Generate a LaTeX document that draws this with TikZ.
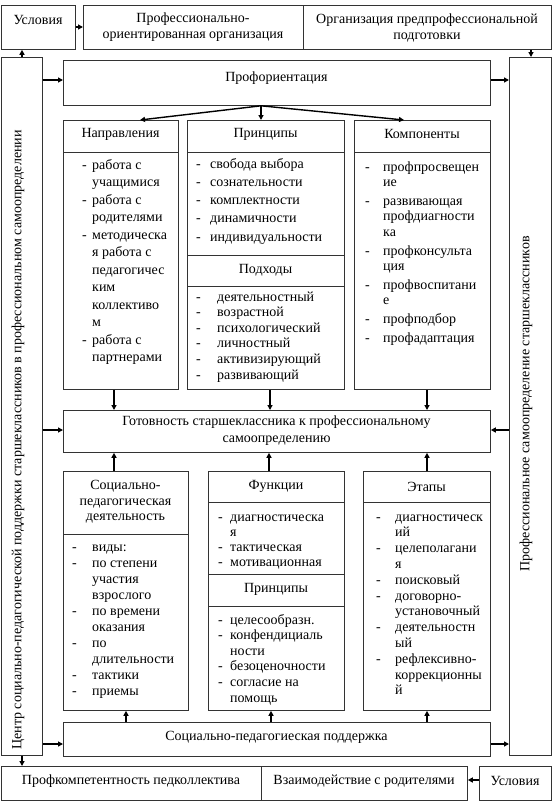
\documentclass[tikz,border=0pt]{standalone}
\usepackage{fontspec}
\setmainfont{Liberation Serif}
\usetikzlibrary{arrows.meta}
\newlength\dw
\newcommand\di[1]{\makebox[\dw][l]{-}#1}
\newcommand\dc[1]{\hspace*{\dw}#1}
\newcommand\bx[5]{\node[box,anchor=north west,minimum width={#4-#2},minimum height={#5-#3}] (#1) at (#2,#3) {};}
\newcommand\lst[6]{\node[anchor=base west,inner sep=0] (#1) at (#2,#3) {\parbox[t]{140pt}{\fontsize{14}{#5}\selectfont\setlength\dw{#4}\raggedright #6}};}
\tikzset{
  box/.style={draw=black!80,line width=0.8pt,inner sep=0},
  arr/.style={-{Triangle[length=5pt,width=5pt]},line width=1.4pt},
  txt/.style={inner sep=0,font=\fontsize{14}{16}\selectfont,align=center},
  sep/.style={draw=black!80,line width=0.8pt}
}
\begin{document}
\begin{tikzpicture}[x=1pt,y=-1pt]
\useasboundingbox (0,0) rectangle (556,803);
% boxes
\bx{U1}{1}{5}{75}{49}
\bx{PO}{83}{5}{303}{49}
\bx{OP}{303}{5}{551}{49}
\bx{L}{1}{57}{42}{755}
\bx{R}{509}{57}{551}{755}
\bx{PROF}{63}{60}{490}{105}
\bx{N}{63}{120}{178}{389}
\bx{P}{187}{120}{344}{389}
\bx{K}{354}{120}{490}{389}
\bx{GOT}{63}{410}{490}{452}
\bx{S}{63}{471}{188}{710}
\bx{F}{208}{471}{344}{710}
\bx{E}{363}{471}{490}{710}
\bx{SUP}{63}{722}{490}{756}
\bx{PK}{1}{766}{261}{800}
\bx{VZ}{261}{766}{467}{800}
\bx{U2}{479}{766}{551}{800}
% separators
\draw[sep] (N.west |- 0,152) -- (N.east |- 0,152);
\draw[sep] (P.west |- 0,152) -- (P.east |- 0,152);
\draw[sep] (K.west |- 0,152) -- (K.east |- 0,152);
\draw[sep] (P.west |- 0,255) -- (P.east |- 0,255);
\draw[sep] (P.west |- 0,286) -- (P.east |- 0,286);
\draw[sep] (S.west |- 0,534) -- (S.east |- 0,534);
\draw[sep] (F.west |- 0,502) -- (F.east |- 0,502);
\draw[sep] (F.west |- 0,574) -- (F.east |- 0,574);
\draw[sep] (F.west |- 0,606) -- (F.east |- 0,606);
\draw[sep] (E.west |- 0,502) -- (E.east |- 0,502);
% texts
\node[txt] (tU1) at (38,20) {Условия};
\node[txt,font=\fontsize{14}{16}\selectfont] (tPO) at (193,27.5) {Профессионально-\\ориентированная организация};
\node[txt] (tOP) at (427,27.5) {Организация предпрофессиональной\\подготовки};
\node[txt] (tL) at (18,440) [rotate=90] {Центр социально-педагогической поддержки старшеклассников в профессиональном самоопределении};
\node[txt] (tR) at (526,404) [rotate=90] {Профессиональное самоопределение старшеклассников};
\node[txt] (tPROF) at (276.5,78) {Профориентация};
\node[txt] (hN) at (120.5,134) {Направления};
\node[txt] (hP) at (265.5,134) {Принципы};
\node[txt] (hK) at (422,134) {Компоненты};
\node[txt] (hPd) at (265.5,270) {Подходы};
\node[txt,font=\fontsize{14}{17}\selectfont] (tGOT) at (276.5,430.5) {Готовность старшеклассника к профессиональному\\самоопределению};
\node[txt,font=\fontsize{14}{15.5}\selectfont] (hS) at (125.5,502) {Социально-\\педагогическая\\деятельность};
\node[txt] (hF) at (276,486) {Функции};
\node[txt] (hF2) at (276,589) {Принципы};
\node[txt] (hE) at (426.5,487) {Этапы};
\node[txt] (tSUP) at (276.5,737) {Социально-педагогиеская поддержка};
\node[txt] (tPK) at (131,781) {Профкомпетентность педколлектива};
\node[txt] (tVZ) at (364,781) {Взаимодействие с родителями};
\node[txt] (tU2) at (515,781) {Условия};
% lists
\lst{lN}{82}{169}{10pt}{17.5}{\di{работа с}\\\dc{учащимися}\\\di{работа с}\\\dc{родителями}\\\di{методическа}\\\dc{я работа с}\\\dc{педагогичес}\\\dc{ким}\\\dc{коллективо}\\\dc{м}\\\di{работа с}\\\dc{партнерами}}
\lst{lP1}{196}{168}{14pt}{18.3}{\di{свобода выбора}\\\di{сознательности}\\\di{комплектности}\\\di{динамичности}\\\di{индивидуальности}}
\lst{lP2}{196}{301}{21pt}{15.6}{\di{деятельностный}\\\di{возрастной}\\\di{психологический}\\\di{личностный}\\\di{активизирующий}\\\di{развивающий}}
\lst{lK}{365}{171}{18pt}{15.6}{\di{профпросвещен}\\\dc{ие}\\[3pt]\di{развивающая}\\\dc{профдиагности}\\\dc{ка}\\[3pt]\di{профконсульта}\\\dc{ция}\\[3pt]\di{профвоспитани}\\\dc{е}\\[3pt]\di{профподбор}\\[3pt]\di{профадаптация}}
\lst{lS}{72}{551}{20pt}{16}{\di{виды:}\\\di{по степени}\\\dc{участия}\\\dc{взрослого}\\\di{по времени}\\\dc{оказания}\\\di{по}\\\dc{длительности}\\\di{тактики}\\\di{приемы}}
\lst{lF1}{218}{521}{12pt}{15.3}{\di{диагностическа}\\\dc{я}\\\di{тактическая}\\\di{мотивационная}}
\lst{lF2}{218}{624}{12pt}{15.6}{\di{целесообразн.}\\\di{конфендициаль}\\\dc{ности}\\\di{безоценочности}\\\di{согласие на}\\\dc{помощь}}
\lst{lE}{376}{521}{19pt}{15.8}{\di{диагностическ}\\\dc{ий}\\\di{целеполагани}\\\dc{я}\\\di{поисковый}\\\di{договорно-}\\\dc{установочный}\\\di{деятельностн}\\\dc{ый}\\\di{рефлексивно-}\\\dc{коррекционны}\\\dc{й}}
% arrows
\draw[arr] (U1.east |- 0,27) -- (PO.west |- 0,27);
\draw[arr] (L.north -| 22,0) -- (U1.south -| 22,0);
\draw[arr] (OP.south -| 531,0) -- (R.north -| 531,0);
\draw[arr] (L.east |- 0,80) -- (PROF.west |- 0,80);
\draw[arr] (PROF.east |- 0,80) -- (R.west |- 0,80);
\draw[arr] (PROF.south -| 261,0) -- (N.north -| 140,0);
\draw[arr] (PROF.south -| 261,0) -- (P.north -| 261,0);
\draw[arr] (PROF.south -| 261,0) -- (K.north -| 404,0);
\draw[arr] (N.south -| 114,0) -- (GOT.north -| 114,0);
\draw[arr] (P.south -| 270,0) -- (GOT.north -| 270,0);
\draw[arr] (K.south -| 427,0) -- (GOT.north -| 427,0);
\draw[arr] (L.east |- 0,430) -- (GOT.west |- 0,430);
\draw[arr] (R.west |- 0,430) -- (GOT.east |- 0,430);
\draw[arr] (S.north -| 114,0) -- (GOT.south -| 114,0);
\draw[arr] (F.north -| 269,0) -- (GOT.south -| 269,0);
\draw[arr] (E.north -| 427,0) -- (GOT.south -| 427,0);
\draw[arr] (SUP.north -| 126,0) -- (S.south -| 126,0);
\draw[arr] (SUP.north -| 271,0) -- (F.south -| 271,0);
\draw[arr] (SUP.north -| 427,0) -- (E.south -| 427,0);
\draw[arr] (L.east |- 0,744) -- (SUP.west |- 0,744);
\draw[arr] (SUP.east |- 0,744) -- (R.west |- 0,744);
\draw[arr] (L.south -| 22,0) -- (PK.north -| 22,0);
\draw[arr] (U2.west |- 0,780) -- (VZ.east |- 0,780);
\end{tikzpicture}
\end{document}
